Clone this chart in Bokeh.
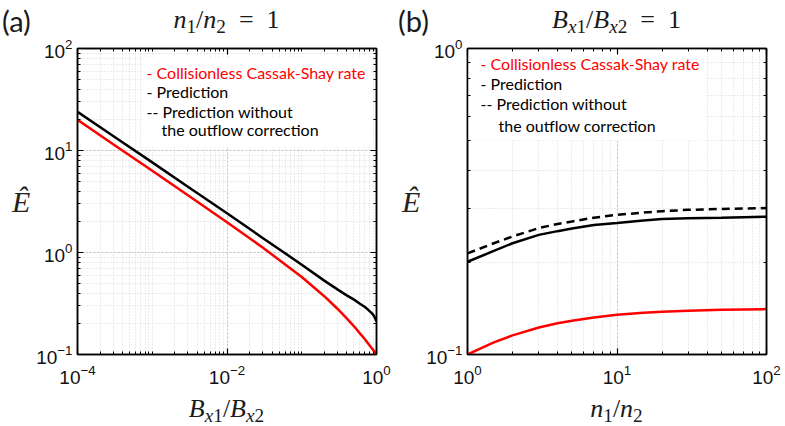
from bokeh.plotting import figure
from bokeh.layouts import row, column
from bokeh.models import (LogAxis, FixedTicker, Label, BoxAnnotation, Range1d,
                          CustomJSTickFormatter, Div)
from bokeh.embed import file_html
from bokeh.resources import INLINE

# ---------------- data: panel (a), n1/n2 = 1 ----------------
bx_ratio = [1e-4, 3e-4, 1e-3, 3e-3, 1e-2, 3e-2, 0.1, 0.2, 0.3, 0.4, 0.5, 0.6,
            0.7, 0.75, 0.8, 0.85, 0.9, 0.93, 0.96, 1.0]
cs_rate_a = [20.0, 11.5, 6.32, 3.64, 1.98, 1.12, 0.575, 0.373, 0.281, 0.226,
             0.189, 0.161, 0.141, 0.132, 0.124, 0.117, 0.111, 0.108, 0.104, 0.100]
prediction_a = [24.0, 13.9, 7.65, 4.42, 2.43, 1.39, 0.76, 0.53, 0.435, 0.38,
                0.345, 0.315, 0.292, 0.28, 0.268, 0.257, 0.246, 0.237, 0.226, 0.21]

# ---------------- data: panel (b), Bx1/Bx2 = 1 ----------------
n_ratio = [1, 1.5, 2, 3, 4, 5, 7, 10, 15, 20, 30, 50, 70, 100]
cs_rate_b = [0.100, 0.1095, 0.1155, 0.1225, 0.1265, 0.129, 0.132, 0.1348,
             0.137, 0.138, 0.139, 0.140, 0.1404, 0.1407]
prediction_b = [0.201, 0.218, 0.231, 0.246, 0.253, 0.258, 0.265, 0.269,
                0.274, 0.277, 0.279, 0.280, 0.281, 0.282]
prediction_noout_b = [0.214, 0.231, 0.243, 0.259, 0.267, 0.272, 0.280, 0.286,
                      0.291, 0.294, 0.297, 0.299, 0.300, 0.301]

legend_texts = ["- Collisionless Cassak-Shay rate", "- Prediction",
                "-- Prediction without", "the outflow correction"]
legend_colors = ["#ff0000", "black", "black", "black"]

SUB = '<sub style="font-size:74%;line-height:0;vertical-align:-0.28em">'
title_a = f"<i>n</i>{SUB}1</sub>/<i>n</i>{SUB}2</sub>&ensp;=&ensp;1"
title_b = (f"<i>B</i>{SUB}<i>x</i>1</sub>/<i>B</i>{SUB}<i>x</i>2</sub>"
           "&ensp;=&ensp;1")
xlabel_a = f"<i>B</i>{SUB}<i>x</i>1</sub>/<i>B</i>{SUB}<i>x</i>2</sub>"
xlabel_b = f"<i>n</i>{SUB}1</sub>/<i>n</i>{SUB}2</sub>"

TICK_FONT = "Liberation Sans"
MATH_FONT = "Liberation Serif"
SANS = "Lato"


def minors(lo, hi):
    out = []
    for e in range(lo, hi):
        for m in range(1, 10):
            out.append(m * 10.0 ** e)
    out.append(10.0 ** hi)
    return out


def panel(xr, yr, xmaj, yexp, ymaj, xexp, bl, br):
    xt = FixedTicker(ticks=xmaj, minor_ticks=minors(*xexp))
    yt = FixedTicker(ticks=ymaj, minor_ticks=minors(*yexp))
    p = figure(x_axis_type="log", y_axis_type="log",
               x_range=Range1d(*xr), y_range=Range1d(*yr),
               frame_width=299, frame_height=306,
               min_border_left=bl, min_border_right=br,
               min_border_top=13, min_border_bottom=36,
               output_backend="svg", toolbar_location=None)
    p.outline_line_color = "black"
    p.outline_line_width = 1.5
    p.background_fill_color = "white"
    p.border_fill_color = "white"

    for ax, t in ((p.xaxis[0], xt), (p.yaxis[0], yt)):
        ax.ticker = t
        ax.major_tick_in = 6
        ax.major_tick_out = 0
        ax.minor_tick_in = 3
        ax.minor_tick_out = 0
        ax.axis_line_width = 1.5
        ax.major_tick_line_width = 1.2
        ax.minor_tick_line_width = 1
        ax.major_label_text_font = TICK_FONT
        ax.major_label_text_font_size = "19px"
        ax.major_label_text_color = "#111111"
    p.xaxis[0].major_label_standoff = 10
    p.yaxis[0].axis_label = "Ê"
    p.yaxis[0].axis_label_text_font = MATH_FONT
    p.yaxis[0].axis_label_text_font_style = "italic"
    p.yaxis[0].axis_label_text_color = "#222222"
    p.yaxis[0].axis_label_orientation = "horizontal"
    p.yaxis[0].axis_label_text_font_size = "30px"
    p.yaxis[0].axis_label_standoff = 3
    p.yaxis[0].major_label_standoff = 5

    for loc, t in (("above", xt), ("right", yt)):
        ax = LogAxis(ticker=t, major_tick_in=6, major_tick_out=0,
                     minor_tick_in=3, minor_tick_out=0, axis_line_width=1.5,
                     formatter=CustomJSTickFormatter(code="return ''"),
                     major_label_text_font_size="1px", major_label_standoff=0,
                     major_tick_line_width=1.2)
        p.add_layout(ax, loc)

    for g in (p.xgrid[0], p.ygrid[0]):
        g.grid_line_color = "#c4c4c4"
        g.grid_line_dash = "2 2"
        g.grid_line_width = 1
        g.minor_grid_line_color = "#d8d8d8"
        g.minor_grid_line_dash = "1 2"
        g.minor_grid_line_width = 1
    return p


# ---------------- panel (a) ----------------
pa = panel((1e-4, 1.0), (0.1, 100.0), [1e-4, 1e-2, 1.0], (-1, 2),
           [0.1, 1.0, 10.0, 100.0], (-4, 0), 77, 22)
pa.add_layout(BoxAnnotation(left=7.6e-4, right=0.86, top=82, bottom=10.9,
                            fill_color="white", fill_alpha=1.0,
                            line_color=None, level="underlay"))
pa.line(bx_ratio, cs_rate_a, line_color="#ff0000", line_width=2.5)
pa.line(bx_ratio, prediction_a, line_color="black", line_width=2.5)

# ---------------- panel (b) ----------------
pb = panel((1.0, 100.0), (0.1, 1.0), [1.0, 10.0, 100.0], (-1, 0),
           [0.1, 1.0], (0, 2), 69, 19)
pb.add_layout(BoxAnnotation(left=1.0, right=39.0, top=0.992, bottom=0.50,
                            fill_color="white", fill_alpha=1.0,
                            line_color=None, level="underlay"))
pb.line(n_ratio, cs_rate_b, line_color="#ff0000", line_width=2.5)
pb.line(n_ratio, prediction_b, line_color="black", line_width=2.5)
pb.line(n_ratio, prediction_noout_b, line_color="black", line_width=2.5,
        line_dash="8 5")

# legends
for p, x0, y0, dx, dys, indent in (
        (pa, 1e-4, 100.0, 69, [-24, -43, -63, -81], 84),
        (pb, 1.0, 1.0, 13, [-15, -35, -55, -77], 31)):
    for txt, col, dy, i in zip(legend_texts, legend_colors, dys, range(4)):
        p.add_layout(Label(x=x0, y=y0, x_offset=(indent if i == 3 else dx),
                           y_offset=dy, text=txt, text_color=col,
                           text_font=SANS, text_font_size="16px",
                           text_baseline="middle", text_align="left"))


def tdiv(html, w, h, font, size, lh, align="center", pad=0):
    return Div(text=f'<div style="width:{w - pad}px;line-height:{lh}px;'
                    f'text-align:{align};padding-left:{pad}px;'
                    f'white-space:nowrap">{html}</div>',
               width=w, height=h, margin=0,
               styles={"font-family": font, "font-size": f"{size}px",
                       "color": "#1a1a1a", "text-align": align})


top_row = row(
    tdiv("(a)", 77, 35, SANS, 29, 42, "left", 2),
    tdiv(title_a, 299, 35, MATH_FONT, 26, 40),
    tdiv("", 22, 35, SANS, 10, 10),
    tdiv("(b)", 69, 35, SANS, 29, 42, "left", 0),
    tdiv(title_b, 299, 35, MATH_FONT, 26, 40),
    tdiv("", 19, 35, SANS, 10, 10),
    spacing=0)
bottom_row = row(
    tdiv("", 77, 34, SANS, 10, 10),
    tdiv(xlabel_a, 299, 34, MATH_FONT, 26, 20),
    tdiv("", 91, 34, SANS, 10, 10),
    tdiv(xlabel_b, 299, 34, MATH_FONT, 26, 20),
    tdiv("", 19, 34, SANS, 10, 10),
    spacing=0)

layout = column(top_row, row(pa, pb, spacing=0), bottom_row, spacing=0)
open("out.html", "w").write(file_html(layout, INLINE))
